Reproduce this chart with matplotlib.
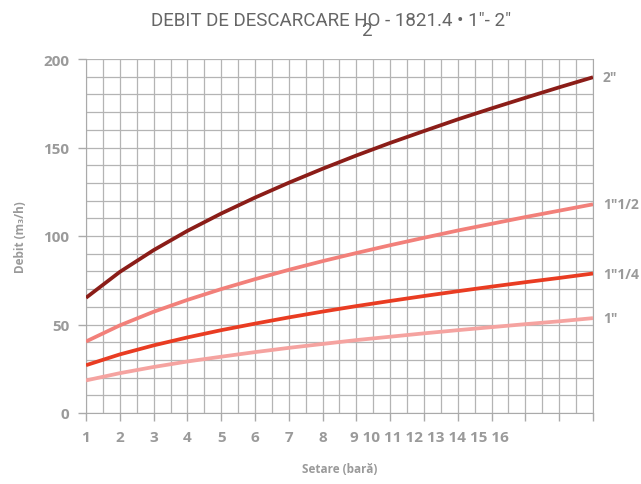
import matplotlib.pyplot as plt
import numpy as np

# setare (bar) si debit (m3/h)
setare = list(range(1, 17))
debit_2 = [65.1, 79.7, 92.0, 102.9, 112.7, 121.7, 130.1, 138.0, 145.5, 152.6, 159.3, 165.9, 172.1, 178.1, 184.0, 189.7]
debit_1_1_2 = [40.4, 49.5, 57.2, 63.9, 70.0, 75.6, 80.9, 85.8, 90.4, 94.8, 99.0, 103.1, 106.9, 110.7, 114.3, 117.9]
debit_1_1_4 = [27.0, 33.1, 38.2, 42.7, 46.8, 50.5, 54.0, 57.3, 60.4, 63.3, 66.1, 68.8, 71.4, 73.9, 76.3, 78.8]
debit_1 = [18.4, 22.5, 26.0, 29.1, 31.8, 34.4, 36.8, 39.0, 41.2, 43.1, 45.0, 46.8, 48.5, 50.2, 51.8, 53.6]

serii = [
    (debit_1, '1\u2033', '#f5a3a0'),
    (debit_1_1_4, '1\u20331/4', '#e93c22'),
    (debit_1_1_2, '1\u20331/2', '#f2807a'),
    (debit_2, '2\u2033', '#8b1d18'),
]

gri = '#9a9a9a'
plt.rcParams['font.family'] = ['Open Sans', 'DejaVu Sans']

fig = plt.figure(figsize=(6.41, 4.85), dpi=100)
ax = fig.add_axes([86 / 641, 71 / 485, 507 / 641, 354 / 485])

for y, nume, culoare in serii:
    ax.plot(setare, y, color=culoare, lw=2.7, solid_capstyle='butt', zorder=3)
    ax.annotate(nume, (16, y[-1]), xytext=(7, 0), textcoords='offset points',
                ha='left', va='center', fontsize=10, fontweight='bold', color=gri,
                annotation_clip=False)

ax.set_xlim(1, 16)
ax.set_ylim(0, 200)
ax.set_xticks(setare)
ax.set_xticklabels([str(v) if v <= 8 else '' for v in setare])
ax.set_xticks(np.arange(1, 16.01, 0.5), minor=True)
ax.set_yticks([0, 50, 100, 150, 200])
ax.set_yticks(np.arange(0, 201, 10), minor=True)
ax.grid(which='both', color='#b4b4b4', lw=0.9)
ax.tick_params(which='minor', length=0)
ax.tick_params(which='major', length=6, width=1, color='#aaaaaa', labelcolor=gri,
               labelsize=11, pad=6)
for lbl in ax.get_xticklabels() + ax.get_yticklabels():
    lbl.set_fontweight('bold')
# etichetele 9..16 sunt inghesuite in original
ax.annotate('9 10 11 12 13 14 15 16', (8.82, 0), xytext=(0, -12), textcoords='offset points',
            ha='left', va='top', fontsize=11, fontweight='bold', color=gri,
            annotation_clip=False)
for s in ax.spines.values():
    s.set_color('#aaaaaa')
ax.spines['top'].set_visible(False)

ax.set_xlabel('Setare (bară)', fontsize=8.5, fontweight='bold', color=gri, labelpad=13)
ax.set_ylabel('Debit (m\u2083/h)', fontsize=8.5, fontweight='bold', color=gri, labelpad=12)

fig.text(331 / 641, 1 - 21 / 485, 'DEBIT DE DESCARCARE HO - 1821.4 \u2022 1\u2033- 2\u2033',
         ha='center', va='center', fontsize=13.5, color='#666666', family=['Roboto', 'DejaVu Sans'])
fig.text(366 / 641, 1 - 31 / 485, '2', ha='center', va='center', fontsize=13.5,
         color='#666666', family=['Roboto', 'DejaVu Sans'])

fig.savefig('out.png', dpi=100)
